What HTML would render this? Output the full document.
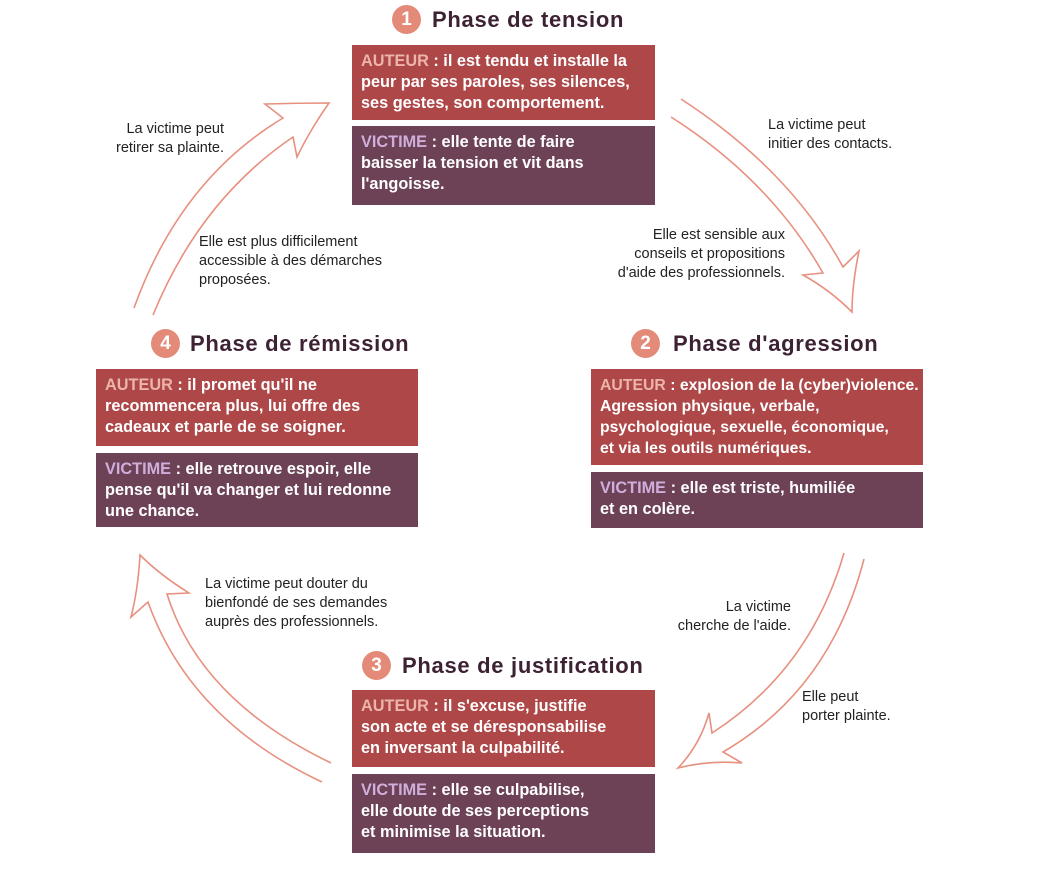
<!DOCTYPE html>
<html><head><meta charset="utf-8"><style>
body{margin:0;width:1052px;height:884px;background:#fff;position:relative;overflow:hidden;font-family:"Liberation Sans",sans-serif}
.b{position:absolute;color:#fff;font-weight:bold;font-size:16.3px;line-height:21px;padding:6px 0 0 9px;box-sizing:border-box;letter-spacing:0px;white-space:nowrap}
.a{background:#ad4748}.v{background:#6d4257}
.a span{color:#ecb4ab}.v span{color:#cfaedb}
.h{position:absolute;font-weight:bold;font-size:22px;color:#3d2233;white-space:nowrap;line-height:28px;letter-spacing:0.7px}
.c{position:absolute;width:29px;height:29px;border-radius:50%;background:#e48a78;color:#fff;font-weight:bold;font-size:19px;text-align:center;line-height:29px}
.t{position:absolute;font-size:14.5px;line-height:19px;color:#222;white-space:nowrap}
.r{text-align:right}
</style></head><body>
<svg width="1052" height="884" style="position:absolute;left:0;top:0" fill="none" stroke="#e8907f" stroke-width="1.6" stroke-linejoin="miter">
<path d="M681,99 Q790,170 843,267 L859,251 Q852,285 852,312 Q830,290 803,275 L823,273 Q770,180 671,117"/>
<path d="M844,553 Q810,670 712,733 L709,713 Q700,745 678,768 Q710,760 742,763 L723,752 Q830,690 864,559"/>
<path d="M331,763 Q200,700 167,594 L189,593 Q160,575 140,555 Q138,590 131,617 L148,602 Q190,720 322,782"/>
<path d="M134,308 Q180,180 283,118 L265,104 Q300,103 329,103 Q310,130 297,157 L293,137 Q200,200 153,315"/>
</svg>
<div class="c" style="left:392px;top:5px">1</div><div class="h" style="left:432px;top:6px">Phase de tension</div>
<div class="b a" style="left:352px;top:45px;width:303px;height:75px"><span>AUTEUR</span> : il est tendu et installe la<br>peur par ses paroles, ses silences,<br>ses gestes, son comportement.</div>
<div class="b v" style="left:352px;top:126px;width:303px;height:79px"><span>VICTIME</span> : elle tente de faire<br>baisser la tension et vit dans<br>l'angoisse.</div>

<div class="c" style="left:151px;top:329px">4</div><div class="h" style="left:190px;top:330px">Phase de rémission</div>
<div class="b a" style="left:96px;top:369px;width:322px;height:77px"><span>AUTEUR</span> : il promet qu'il ne<br>recommencera plus, lui offre des<br>cadeaux et parle de se soigner.</div>
<div class="b v" style="left:96px;top:453px;width:322px;height:74px"><span>VICTIME</span> : elle retrouve espoir, elle<br>pense qu'il va changer et lui redonne<br>une chance.</div>

<div class="c" style="left:631px;top:329px">2</div><div class="h" style="left:673px;top:330px">Phase d'agression</div>
<div class="b a" style="left:591px;top:369px;width:332px;height:96px;font-size:15.8px"><span>AUTEUR</span> : explosion de la (cyber)violence.<br>Agression physique, verbale,<br>psychologique, sexuelle, économique,<br>et via les outils numériques.</div>
<div class="b v" style="left:591px;top:472px;width:332px;height:56px"><span>VICTIME</span> : elle est triste, humiliée<br>et en colère.</div>

<div class="c" style="left:362px;top:651px">3</div><div class="h" style="left:402px;top:652px">Phase de justification</div>
<div class="b a" style="left:352px;top:690px;width:303px;height:77px"><span>AUTEUR</span> : il s'excuse, justifie<br>son acte et se déresponsabilise<br>en inversant la culpabilité.</div>
<div class="b v" style="left:352px;top:774px;width:303px;height:79px"><span>VICTIME</span> : elle se culpabilise,<br>elle doute de ses perceptions<br>et minimise la situation.</div>

<div class="t r" style="right:828px;top:120px">La victime peut<br>retirer sa plainte.</div>
<div class="t" style="left:199px;top:233px">Elle est plus difficilement<br>accessible à des démarches<br>proposées.</div>
<div class="t" style="left:768px;top:116px">La victime peut<br>initier des contacts.</div>
<div class="t r" style="right:267px;top:226px">Elle est sensible aux<br>conseils et propositions<br>d'aide des professionnels.</div>
<div class="t r" style="right:261px;top:598px">La victime<br>cherche de l'aide.</div>
<div class="t" style="left:802px;top:688px">Elle peut<br>porter plainte.</div>
<div class="t" style="left:205px;top:575px">La victime peut douter du<br>bienfondé de ses demandes<br>auprès des professionnels.</div>
</body></html>
